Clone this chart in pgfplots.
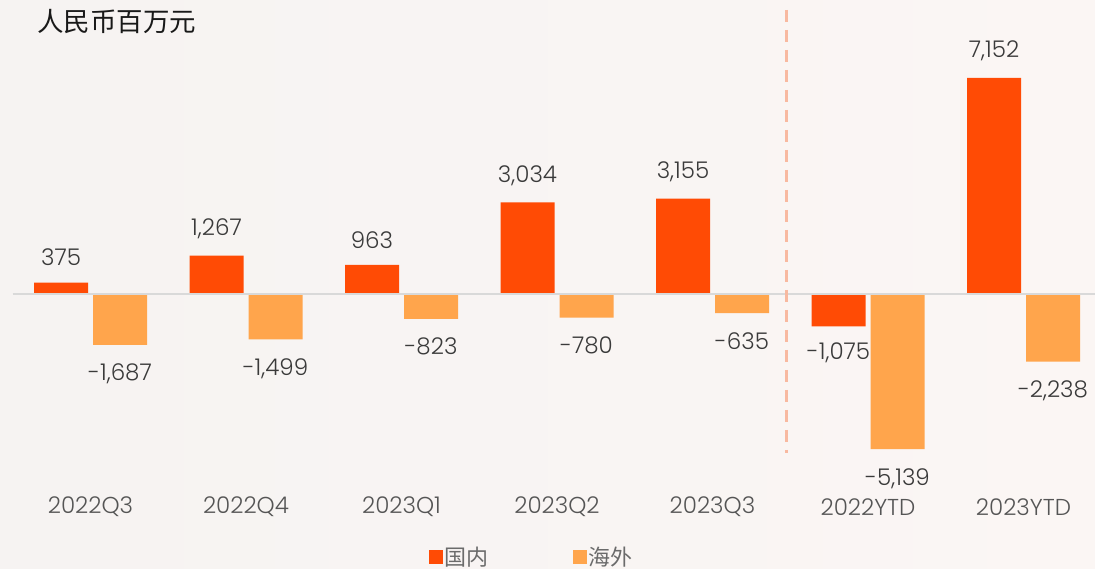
\documentclass[border=0pt]{standalone}
\usepackage{fontspec}
\setmainfont{Poppins}[UprightFont=* Light]
\newfontfamily\cjk{Noto Sans CJK SC}
\usepackage{pgfplots}
\pgfplotsset{compat=1.18}
\definecolor{dom}{HTML}{FF4B05}
\definecolor{ovs}{HTML}{FFA54C}
\definecolor{valgray}{HTML}{3A3A3A}
\definecolor{catgray}{HTML}{555555}
\definecolor{leggray}{HTML}{6B6B6B}
\definecolor{zerogray}{HTML}{D9D9D9}
\definecolor{dashc}{HTML}{F8B9A0}
\definecolor{bgl}{HTML}{F6F3F2}
\definecolor{bgr}{HTML}{FBF6F4}
\begin{document}
\begin{tikzpicture}[x=1pt,y=1pt]
\shade[left color=bgl, right color=bgr] (0,0) rectangle (1095,568);
\path[use as bounding box] (0,0) rectangle (1095,568);
\node[anchor=west, text=black!90, font=\cjk\fontsize{26.5}{30}\selectfont, inner sep=0pt] at (37,546) {人民币百万元};
\begin{axis}[
  at={(12.75pt,98pt)}, anchor=south west,
  scale only axis, width=1082.28pt, height=460pt,
  xmin=-0.5, xmax=6.46, ymin=-5828, ymax=9404,
  axis line style={draw=none}, ytick=\empty,
  xtick={0,1,2,3,4,5,6},
  xticklabels={2022Q3,2022Q4,2023Q1,2023Q2,2023Q3,2022YTD,2023YTD},
  major tick length=0pt,
  xticklabel style={font=\fontsize{23}{26}\selectfont, text=catgray, anchor=center, yshift=-37pt},
  clip=false,
  ybar=5pt, bar width=54pt,
  nodes near coords,
  nodes near coords style={font=\fontsize{23}{26}\selectfont, text=valgray, inner ysep=16.5pt},
  /pgf/number format/.cd, 1000 sep={,}, assume math mode=true, fixed, precision=0,
  /pgfplots/.cd,
  legend style={at={(0.4790,-0.189)}, anchor=center, draw=none, fill=none,
    legend columns=2, font=\cjk\fontsize{22}{26}\selectfont, text=leggray,
    /tikz/every even column/.append style={column sep=84pt},
    /tikz/every node/.append style={inner xsep=1pt}},
  legend image code/.code={\fill[#1,draw=none] (0pt,-7pt) rectangle (14pt,7pt);},
]
\addplot[fill=dom, draw=none] coordinates {(0,375) (1,1267) (2,963) (3,3034) (4,3155) (5,-1075) (6,7152)};
\addlegendentry{国内}
\addplot[fill=ovs, draw=none, nodes near coords style={yshift=-2.5pt}] coordinates {(0,-1687) (1,-1499) (2,-823) (3,-780) (4,-635) (5,-5139) (6,-2238)};
\addlegendentry{海外}
\draw[color=zerogray, line width=2pt] (axis cs:-0.5,0) -- (axis cs:6.46,0);
\draw[color=dashc, line width=3pt, dash pattern=on 12pt off 8pt] (axis cs:4.476,9404) -- (axis cs:4.476,-5265);
\end{axis}
\end{tikzpicture}
\end{document}
